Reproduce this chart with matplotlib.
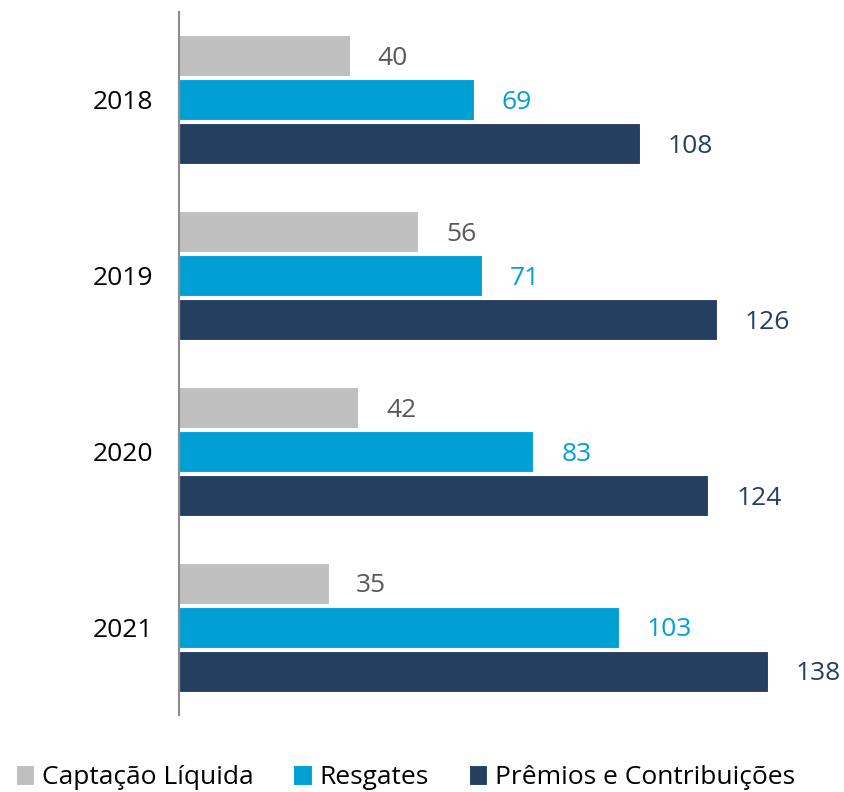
import matplotlib.pyplot as plt
import numpy as np

plt.rcParams['font.family'] = ['Open Sans', 'DejaVu Sans']

years = ['2018', '2019', '2020', '2021']
captacao = [40, 56, 42, 35]
resgates = [69, 71, 83, 103]
premios = [108, 126, 124, 138]

series = [
    ('Captação Líquida', captacao, '#BFBFBF', '#595959'),
    ('Resgates', resgates, '#009FD4', '#009FD4'),
    ('Prêmios e Contribuições', premios, '#253F60', '#253F60'),
]

fig = plt.figure(figsize=(8.45, 7.92), dpi=100)
ax = fig.add_axes([0.212, 0.097, 0.788, 0.888])

y = np.arange(len(years))
h = 0.235
offsets = [-0.25, 0, 0.25]

for (name, vals, color, tcolor), off in zip(series, offsets):
    bars = ax.barh(y + off, vals, height=h, color=color, edgecolor='white',
                   linewidth=0.8, label=name)
    for b, v in zip(bars, vals):
        ax.text(b.get_width() + 6.5, b.get_y() + b.get_height() / 2 + 0.015, str(v),
                va='center', ha='left', fontsize=19, color=tcolor)

ax.set_ylim(3.5, -0.5)
ax.set_xlim(0, 156)
ax.set_yticks(y)
ax.set_yticklabels(years, fontsize=19)
ax.tick_params(axis='y', length=0, pad=19)
ax.set_xticks([])
for s in ['top', 'right', 'bottom']:
    ax.spines[s].set_visible(False)
ax.spines['left'].set_color('#8C8C8C')
ax.spines['left'].set_linewidth(1.5)

fig.legend(loc='lower left', bbox_to_anchor=(0.0, -0.018), ncol=3, frameon=False,
           fontsize=19, handlelength=0.7, handleheight=0.8, handletextpad=0.3,
           columnspacing=1.5, borderaxespad=0.2)

fig.savefig('out.png', dpi=100)
